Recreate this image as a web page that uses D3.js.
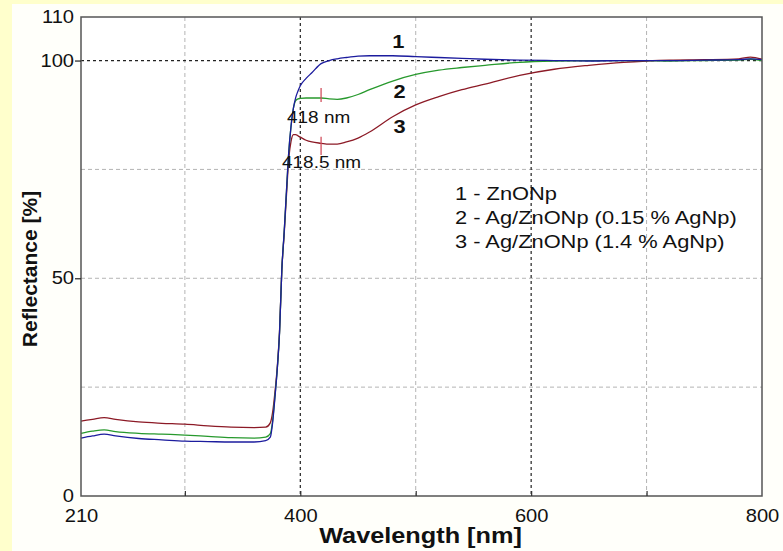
<!DOCTYPE html>
<html>
<head>
<meta charset="utf-8">
<script src="https://cdn.jsdelivr.net/npm/d3@7"></script>
<style>
  body { margin: 0; background: #FFFFCC; }
  svg { display: block; }
</style>
</head>
<body>
<div id="chart"></div>
<script>
// wavelength grid (nm) shared by the three spectra
const wavelengths = [210, 220, 230, 240, 260, 280, 300, 320, 340, 360, 370, 374, 376, 378, 380, 382, 384, 386, 388, 390, 392, 394, 396, 398, 400, 405, 410, 418, 425, 432, 440, 450, 460, 480, 500, 520, 540, 560, 590, 620, 650, 680, 700, 720, 750, 780, 790, 800]

// 1 - ZnONp
const reflZnO = [13.3, 13.8, 14.2, 13.8, 13.2, 12.9, 12.6, 12.5, 12.4, 12.4, 12.7, 13.5, 16.8, 22.5, 29, 37.5, 52, 60.5, 70, 79, 85, 89, 91.5, 93, 94.2, 95.9, 97.2, 99.3, 100.0, 100.4, 100.7, 101.0, 101.1, 101.1, 100.9, 100.7, 100.5, 100.3, 100.1, 100.0, 99.9, 100.0, 100.0, 100.0, 100.1, 100.2, 100.4, 100.2]
// 2 - Ag/ZnONp (0.15 % AgNp)
const reflAg015 = [14.4, 14.9, 15.2, 14.8, 14.4, 14.2, 14.0, 13.7, 13.4, 13.3, 13.5, 14.3, 17.2, 22.8, 29, 37.5, 52, 60.5, 70, 79, 85, 89, 90.8, 91.2, 91.3, 91.4, 91.4, 91.4, 91.2, 91.1, 91.4, 92.2, 93.3, 95.3, 96.8, 97.8, 98.4, 98.9, 99.6, 99.9, 100.0, 100.0, 100.0, 99.9, 100.0, 100.1, 100.3, 100.0]
// 3 - Ag/ZnONp (1.4 % AgNp)
const reflAg14 = [17.2, 17.6, 18.0, 17.6, 17.0, 16.7, 16.5, 16.1, 15.8, 15.7, 15.8, 16.8, 19.2, 23.8, 29.5, 37.8, 52, 60, 69, 77.5, 81.5, 83, 83, 82.7, 82.4, 81.7, 81.3, 81.0, 80.8, 80.8, 81.3, 82.2, 83.6, 87.1, 89.8, 91.7, 93.3, 94.6, 96.6, 98.0, 98.9, 99.6, 99.9, 100.1, 100.2, 100.4, 100.8, 100.3]

const seriesNames = ['1 - ZnONp', '2 - Ag/ZnONp (0.15 % AgNp)', '3 - Ag/ZnONp (1.4 % AgNp)']
const seriesColors = ['#1c1c9e', '#27992d', '#8c1a26']

const xTickLabels = [210, 400, 600, 800]
const xGridMinor = [300, 500, 700]
const xGridMajor = [400, 600]
const yTickLabels = [0, 50, 100, 110]
const yGridMinor = [25, 50, 75]
const yGridMajor = [100]

// red markers at the absorption dips
const dipMarks = [
  {wl: 418, lo: 90.5, hi: 93.7, label: '418 nm', lx: 287, ly: 123},
  {wl: 418, lo: 78.3, hi: 82.5, label: '418.5 nm', lx: 282, ly: 168}
]
// curve numbers (baseline position in data units)
const curveNumbers = [
  {txt: '1', wl: 485, val: 102.9},
  {txt: '2', wl: 486, val: 91.4},
  {txt: '3', wl: 486, val: 83.3}
]

const W = 783, H = 551
const stretch = 1.15
const font = "'Liberation Sans', Arial, sans-serif"

const svg = d3.select('#chart').append('svg')
  .attr('width', W)
  .attr('height', H)

svg.append('rect').attr('width', W).attr('height', H).attr('fill', '#FFFFCC')
svg.append('rect').attr('x', 12).attr('y', 4).attr('width', W - 12).attr('height', H - 4).attr('fill', '#FFFFFA')

const x = d3.scaleLinear().domain([210, 800]).range([81, 762])
const y = d3.scaleLinear().domain([0, 110]).range([496, 17])

// plot area
svg.append('rect')
  .attr('x', x(210)).attr('y', y(110))
  .attr('width', x(800) - x(210)).attr('height', y(0) - y(110))
  .attr('fill', '#ffffff')

// grid
xGridMinor.forEach(v => {
  svg.append('line')
    .attr('x1', x(v)).attr('x2', x(v)).attr('y1', y(110)).attr('y2', y(0))
    .attr('stroke', '#b4b4b4').attr('stroke-dasharray', '4,3').attr('stroke-width', 1)
})
yGridMinor.forEach(v => {
  svg.append('line')
    .attr('x1', x(210)).attr('x2', x(800)).attr('y1', y(v)).attr('y2', y(v))
    .attr('stroke', '#b4b4b4').attr('stroke-dasharray', '4,3').attr('stroke-width', 1)
})
xGridMajor.forEach(v => {
  svg.append('line')
    .attr('x1', x(v)).attr('x2', x(v)).attr('y1', y(110)).attr('y2', y(0))
    .attr('stroke', '#222').attr('stroke-dasharray', '3,3').attr('stroke-width', 1.2)
})
yGridMajor.forEach(v => {
  svg.append('line')
    .attr('x1', x(210)).attr('x2', x(800)).attr('y1', y(v)).attr('y2', y(v))
    .attr('stroke', '#222').attr('stroke-dasharray', '3,3').attr('stroke-width', 1.2)
})

// curves
const line = d3.line()
  .x((d, i) => x(wavelengths[i]))
  .y(d => y(d))
  .curve(d3.curveMonotoneX)

const allSeries = [reflZnO, reflAg015, reflAg14]
// draw 3 first, then 2, then 1 so blue sits on top at the edge
for (let i = allSeries.length - 1; i >= 0; i--) {
  svg.append('path')
    .attr('d', line(allSeries[i]))
    .attr('fill', 'none')
    .attr('stroke', seriesColors[i])
    .attr('stroke-width', 1.3)
}

// dip markers
dipMarks.forEach(m => {
  svg.append('line')
    .attr('x1', x(m.wl)).attr('x2', x(m.wl))
    .attr('y1', y(m.lo)).attr('y2', y(m.hi))
    .attr('stroke', '#d2505e').attr('stroke-width', 1.3)
})

// frame
svg.append('rect')
  .attr('x', x(210)).attr('y', y(110))
  .attr('width', x(800) - x(210)).attr('height', y(0) - y(110))
  .attr('fill', 'none').attr('stroke', '#555').attr('stroke-width', 1.5)

// axes
const xAxis = svg.append('g')
  .attr('transform', 'translate(0,' + y(0) + ')')
  .call(d3.axisBottom(x).tickValues(xTickLabels).tickSize(0).tickPadding(14))
xAxis.select('.domain').remove()

const xTicks = svg.append('g')
  .attr('transform', 'translate(0,' + y(0) + ')')
  .call(d3.axisBottom(x).tickValues([300, 400, 500, 600, 700]).tickSize(-5).tickFormat(''))
xTicks.select('.domain').remove()
xTicks.selectAll('line').attr('stroke', '#333').attr('stroke-width', 1.2)

const yAxis = svg.append('g')
  .attr('transform', 'translate(' + x(210) + ',0)')
  .call(d3.axisLeft(y).tickValues(yTickLabels).tickSize(0).tickPadding(7))
yAxis.select('.domain').remove()

const yTicks = svg.append('g')
  .attr('transform', 'translate(' + x(210) + ',0)')
  .call(d3.axisLeft(y).tickValues([50, 100]).tickSize(6).tickFormat(''))
yTicks.select('.domain').remove()
yTicks.selectAll('line').attr('stroke', '#222').attr('stroke-width', 1.2)

svg.selectAll('.tick text')
  .attr('font-family', font)
  .attr('font-size', 17.5)
  .attr('fill', '#111')
  .attr('transform', 'scale(' + stretch + ',1)')

// the x labels are scaled round their own x=0, ok; y labels sit at x=-7
yAxis.selectAll('.tick text').attr('x', -7 / stretch)

function stretchedText(str, px, py, size, anchor, weight) {
  svg.append('text')
    .attr('transform', 'translate(' + px + ',' + py + ') scale(' + stretch + ',1)')
    .attr('text-anchor', anchor)
    .attr('font-family', font)
    .attr('font-size', size)
    .attr('font-weight', weight)
    .attr('fill', '#111')
    .text(str)
}

// axis titles
stretchedText('Wavelength [nm]', (x(210) + x(800)) / 2 - 1, 543, 22, 'middle', 'bold')
svg.append('text')
  .attr('transform', 'translate(37,269) rotate(-90)')
  .attr('text-anchor', 'middle')
  .attr('font-family', font)
  .attr('font-size', 21)
  .attr('font-weight', 'bold')
  .attr('fill', '#111')
  .text('Reflectance [%]')

// annotations
dipMarks.forEach(m => stretchedText(m.label, m.lx, m.ly, 16.5, 'start', 'normal'))
curveNumbers.forEach(c => stretchedText(c.txt, x(c.wl), y(c.val), 19, 'middle', 'bold'))

// legend text
seriesNames.forEach((s, i) => stretchedText(s, 455, 200 + i * 24, 19, 'start', 'normal'))
</script>
</body>
</html>
